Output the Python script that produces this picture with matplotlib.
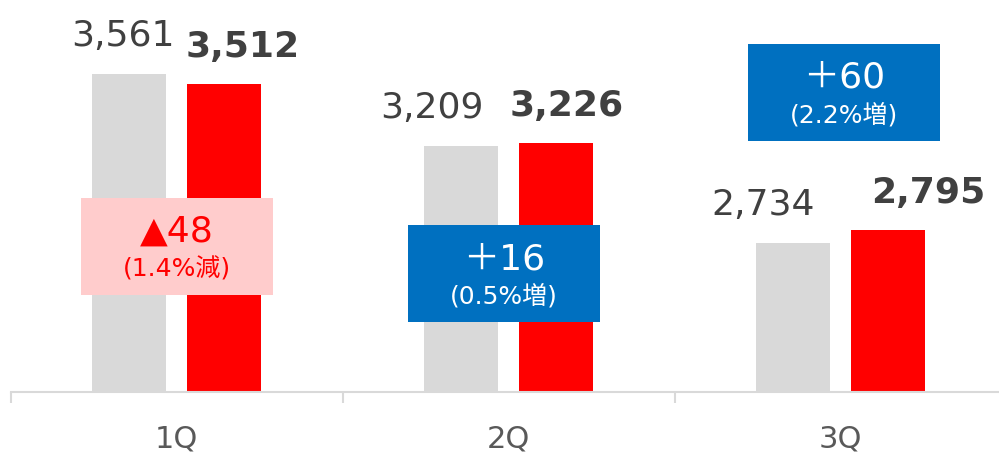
import matplotlib
matplotlib.use('Agg')
import matplotlib.pyplot as plt
from matplotlib.patches import Rectangle

# Data
quarters = ['1Q', '2Q', '3Q']
prev_year = [3561, 3209, 2734]
this_year = [3512, 3226, 2795]
diff_main = ['▲48', '＋16', '＋60']
diff_sub = ['(1.4%減)', '(0.5%増)', '(2.2%増)']

# Layout (manual tweaks)
gray_label_dx = [-6, -29, -30]
red_label_dx = [19, 11, 40]
box_center_y = [2715, 2582, 3472]
box_dx = [0.0, -0.013, 0.012]
box_face = ['#FFCCCC', '#0070C0', '#0070C0']
box_text = ['#FF0000', 'white', 'white']

fonts = ['DejaVu Sans', 'Noto Sans CJK JP']
plt.rcParams['font.family'] = fonts

fig = plt.figure(figsize=(9.99, 4.54), dpi=100)
ax = fig.add_axes([10.5 / 999, 62 / 454, 996 / 999, 407 / 454])

x = list(range(len(quarters)))
w = 0.223
off = 0.143
gx = [i - off for i in x]
rx = [i + off for i in x]
ax.bar(gx, [v - 2000 for v in prev_year], width=w, bottom=2000, color='#D9D9D9')
ax.bar(rx, [v - 2000 for v in this_year], width=w, bottom=2000, color='#FF0000')

ax.set_xlim(-0.5, 2.5)
ax.set_ylim(2000, 4000)

for i in x:
    ax.annotate(f'{prev_year[i]:,}', (gx[i], prev_year[i]), xytext=(gray_label_dx[i], 28),
                textcoords='offset pixels', ha='center', va='baseline',
                fontsize=26, color='#404040', annotation_clip=False)
    ax.annotate(f'{this_year[i]:,}', (rx[i], this_year[i]), xytext=(red_label_dx[i], 27),
                textcoords='offset pixels', ha='center', va='baseline',
                fontsize=26, fontweight='bold', color='#404040', annotation_clip=False)

    # change boxes
    bw = 192 / 332
    bh = 97 / 0.2035
    cx = i + box_dx[i]
    ax.add_patch(Rectangle((cx - bw / 2, box_center_y[i] - bh / 2), bw, bh,
                           facecolor=box_face[i], edgecolor='none', zorder=3, clip_on=False))
    ax.annotate(diff_main[i], (cx, box_center_y[i]), xytext=(0, 14.5), textcoords='offset pixels',
                ha='center', va='center', fontsize=26, color=box_text[i], zorder=4,
                annotation_clip=False)
    ax.annotate(diff_sub[i], (cx, box_center_y[i]), xytext=(0, -23), textcoords='offset pixels',
                ha='center', va='center', fontsize=18, color=box_text[i], zorder=4,
                annotation_clip=False)

    ax.annotate(quarters[i], (i, 2000), xytext=(0, -56), textcoords='offset pixels',
                ha='center', va='baseline', fontsize=22, color='#595959', annotation_clip=False)

for s in ['top', 'right', 'left']:
    ax.spines[s].set_visible(False)
ax.spines['bottom'].set_color('#D9D9D9')
ax.spines['bottom'].set_linewidth(1.5)
ax.set_yticks([])
ax.set_xticks([-0.5, 0.5, 1.5, 2.5])
ax.set_xticklabels([])
ax.tick_params(axis='x', length=8, width=1.5, color='#D9D9D9')

fig.savefig('out.png', dpi=100)
